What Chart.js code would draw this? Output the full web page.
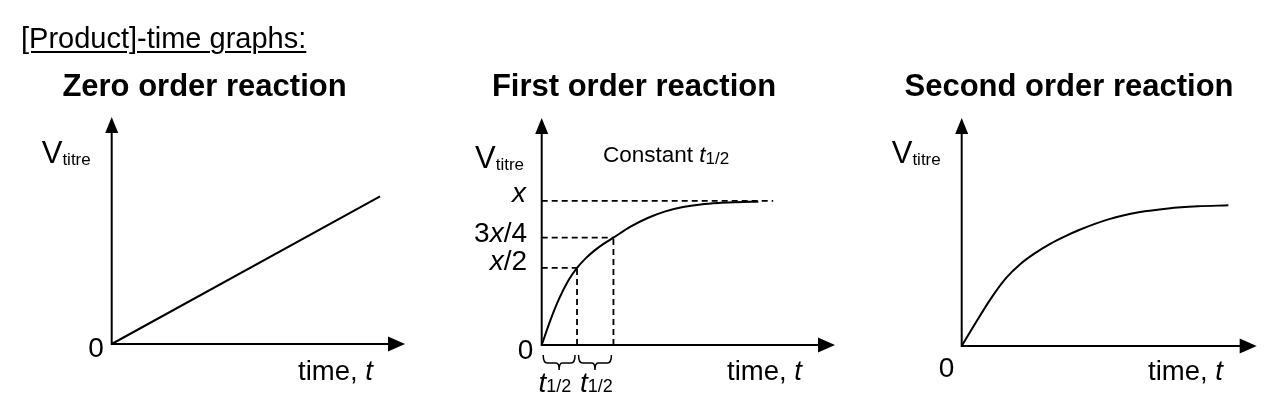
<!DOCTYPE html>
<html>
<head>
<meta charset="utf-8">
<script src="https://cdn.jsdelivr.net/npm/chart.js@4/dist/chart.umd.min.js"></script>
<style>
  html, body { margin:0; padding:0; background:#fff; }
  body { width:1286px; height:408px; position:relative; overflow:hidden; font-family:"Liberation Sans", Arial, Helvetica, sans-serif; color:#000; }
  canvas { position:absolute; left:0; top:0; }
  .lbl { position:absolute; line-height:1; white-space:nowrap; }
</style>
</head>
<body>
<canvas id="c1" width="1286" height="408"></canvas>
<canvas id="c2" width="1286" height="408"></canvas>
<canvas id="c3" width="1286" height="408"></canvas>
<script>
// ---------------- data ----------------
// Zero order: straight line
const zeroTime   = [0, 9.15];
const zeroVolume = [0, 6.5];

// First order: approach to x (time in units of t1/2, volume as fraction of x)
const firstTime   = [0, 0.25,  0.5,   0.75,  1.0,   1.25,  1.5,   1.75,  2.03,  2.5,  3.0,   3.5,   4.0,   4.5,   5.0,   5.5,   6.13];
const firstVolume = [0, 0.175, 0.325, 0.446, 0.535, 0.603, 0.657, 0.702, 0.745, 0.82, 0.882, 0.928, 0.958, 0.976, 0.986, 0.991, 0.995];
const halfLifeTimes = [1.0, 2.03];          // end of 1st and 2nd half-life
const levelValues   = [0.535, 0.745, 1.0];  // x/2, 3x/4, x
const levelLabels   = ['<i>x</i>/2', '3<i>x</i>/4', '<i>x</i>'];
const plateauLineEnd = 6.55;

// Second order
const secondTime   = [0, 0.5,   1.0, 1.5,   2.0,  2.5,   3.0,  3.5,  4.0, 5.0,   6.0,   7.0,   8.0,   9.04];
const secondVolume = [0, 1.075, 2.1, 2.975, 3.61, 4.085, 4.48, 4.81, 5.1, 5.565, 5.865, 6.035, 6.125, 6.17];

const panelTitles = ['Zero order reaction', 'First order reaction', 'Second order reaction'];

// ---------------- helpers ----------------
const pts = (xs, ys) => xs.map((v, i) => ({ x: v, y: ys[i] }));

const diagramPlugin = {
  id: 'diagram',
  beforeDatasetsDraw(chart, args, opts) {
    const { ctx, scales: { x, y } } = chart;
    const ox = x.getPixelForValue(0), oy = y.getPixelForValue(0);
    const tx = x.getPixelForValue(x.max), ty = y.getPixelForValue(y.max);
    ctx.save();
    ctx.strokeStyle = '#000'; ctx.fillStyle = '#000';
    ctx.lineWidth = 2; ctx.lineCap = 'butt';
    ctx.beginPath();
    ctx.moveTo(ox, oy + 1); ctx.lineTo(ox, ty + 12);
    ctx.moveTo(ox - 1, oy); ctx.lineTo(tx - 12, oy);
    ctx.stroke();
    // arrowheads
    ctx.beginPath();
    ctx.moveTo(ox, ty); ctx.lineTo(ox - 6.5, ty + 16); ctx.lineTo(ox + 6.5, ty + 16); ctx.closePath(); ctx.fill();
    ctx.beginPath();
    ctx.moveTo(tx, oy); ctx.lineTo(tx - 17, oy - 7.5); ctx.lineTo(tx - 17, oy + 7.5); ctx.closePath(); ctx.fill();
    // braces under the x axis
    const braces = (opts && opts.braces) || [];
    ctx.lineWidth = 1.5;
    braces.forEach(([a, b]) => {
      const x0 = x.getPixelForValue(a) + 1.5, x1 = x.getPixelForValue(b) - 2;
      const xm = (x0 + x1) / 2;
      const top = oy + 10, mid = oy + 18, tip = oy + 25;
      ctx.beginPath();
      ctx.moveTo(x0, top);
      ctx.quadraticCurveTo(x0, mid, x0 + 4, mid);
      ctx.lineTo(xm - 3, mid);
      ctx.quadraticCurveTo(xm, mid, xm, tip);
      ctx.quadraticCurveTo(xm, mid, xm + 3, mid);
      ctx.lineTo(x1 - 4, mid);
      ctx.quadraticCurveTo(x1, mid, x1, top);
      ctx.stroke();
    });
    ctx.restore();
  }
};

function makeChart(id, datasets, pad, xMax, yMax, braces) {
  return new Chart(document.getElementById(id), {
    type: 'line',
    data: { datasets },
    options: {
      responsive: false, animation: false, devicePixelRatio: 1,
      layout: { padding: pad },
      events: [],
      scales: {
        x: { type: 'linear', min: 0, max: xMax, display: false },
        y: { type: 'linear', min: 0, max: yMax, display: false }
      },
      plugins: { legend: { display: false }, tooltip: { enabled: false }, title: { display: false },
                 diagram: { braces: braces || [] } }
    },
    plugins: [diagramPlugin]
  });
}

const solid = (data, mono) => ({
  data, borderColor: '#000', borderWidth: 2, pointRadius: 0, fill: false, clip: false,
  tension: 0, cubicInterpolationMode: mono ? 'monotone' : 'default'
});
const dashed = (data) => ({
  data, borderColor: '#000', borderWidth: 1.8, borderDash: [6, 4], pointRadius: 0, fill: false, clip: false, tension: 0
});

// Panel 1
makeChart('c1', [solid(pts(zeroTime, zeroVolume), false)],
  { left: 111.7, top: 117, right: 1286 - 405, bottom: 408 - 344 }, 10, 10);

// Panel 2
const p2sets = [];
const hEnds = [halfLifeTimes[0], halfLifeTimes[1], plateauLineEnd];
levelValues.forEach((lv, i) => p2sets.push(dashed([{ x: 0, y: lv }, { x: hEnds[i], y: lv }])));
halfLifeTimes.forEach((t, j) => p2sets.push(dashed([{ x: t, y: 0 }, { x: t, y: levelValues[j] }])));
p2sets.push(solid(pts(firstTime, firstVolume), true));
makeChart('c2', p2sets,
  { left: 541.7, top: 118, right: 1286 - 835, bottom: 408 - 345 }, 8.3, 1.576,
  [[0, halfLifeTimes[0]], [halfLifeTimes[0], halfLifeTimes[1]]]);

// Panel 3
makeChart('c3', [solid(pts(secondTime, secondVolume), true)],
  { left: 961.7, top: 118, right: 1286 - 1256.7, bottom: 408 - 346 }, 10, 10);

// ---------------- text ----------------
function label(html, x, baseline, size, align, style) {
  const d = document.createElement('div');
  d.className = 'lbl';
  d.innerHTML = html;
  d.style.fontSize = size + 'px';
  d.style.top = (baseline - 0.8465 * size) + 'px';
  d.style.left = x + 'px';
  if (align === 'center') d.style.transform = 'translateX(-50%)';
  if (align === 'right') d.style.transform = 'translateX(-100%)';
  if (style) d.setAttribute('style', d.getAttribute('style') + ';' + style);
  document.body.appendChild(d);
  return d;
}

label('[Product]-time graphs:', 21, 49, 29, 'left',
  'text-decoration:underline;text-decoration-thickness:2px;text-underline-offset:3px');

[204.5, 634, 1069].forEach((cx, i) => label(panelTitles[i], cx, 96, 31, 'center', 'font-weight:bold'));

const vt = 'V<span style="font-size:17px;vertical-align:-2px">titre</span>';
label(vt, 41.7, 163, 31);
label(vt, 475, 168, 31);
label(vt, 891.7, 163, 31);

label(levelLabels[2], 526, 203, 28, 'right');
label(levelLabels[1], 527, 243, 28, 'right');
label(levelLabels[0], 527, 271, 28, 'right');

label('0', 96, 358, 28, 'center');
label('0', 525.5, 360, 28, 'center');
label('0', 946.5, 378, 28, 'center');

label('time, <i>t</i>', 298, 380, 27.5);
label('time, <i>t</i>', 727, 380, 27.5);
label('time, <i>t</i>', 1148, 380, 27.5);

const th = '<i>t</i><span style="font-size:18px">1/2</span>';
label(th, 538.5, 393, 28);
label(th, 580, 393, 28);

label('Constant <i>t</i><span style="font-size:17px;vertical-align:-2px">1/2</span>', 603, 163, 22.5);
</script>
</body>
</html>
